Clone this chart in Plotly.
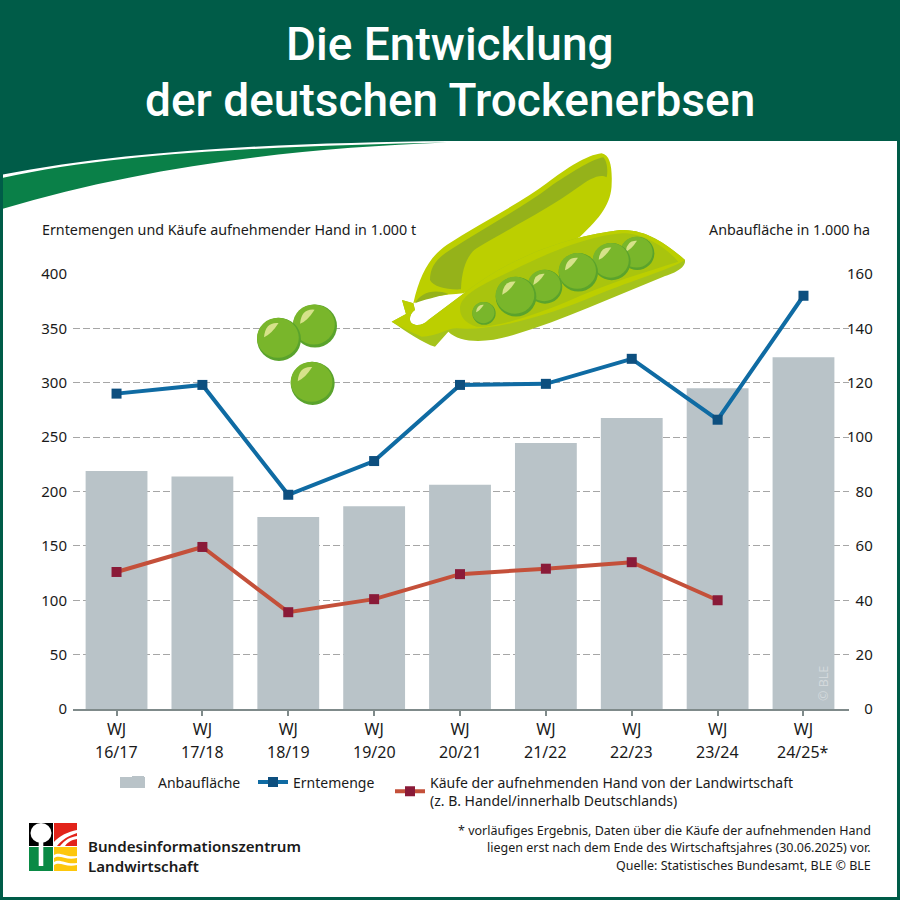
import plotly.graph_objects as go

categories = ["16/17", "17/18", "18/19", "19/20", "20/21", "21/22", "22/23", "23/24", "24/25*"]
anbauflaeche = [87.5, 85.5, 70.6, 74.6, 82.5, 97.8, 107, 118, 129.4]
erntemenge = [290, 298, 197, 228, 298, 299, 322, 266, 380]
kaeufe = [126, 149, 89, 101, 124, 129, 135, 100, None]
right_ticks = [0, 20, 40, 60, 80, 100, 120, 140, 160]

FONT = "Noto Sans"
TITLE_FONT = "Roboto"
INK = "#1a1a1a"
DARK = "#005c48"
MID = "#0a8048"

def X(p): return p / 900
def Y(p): return 1 - p / 900

def to_paper_path(d):
    out, is_x = [], True
    for tok in d.split():
        if tok.isalpha():
            out.append(tok); is_x = True
        else:
            v = float(tok)
            out.append(f"{X(v):.5f}" if is_x else f"{Y(v):.5f}")
            is_x = not is_x
    return " ".join(out)

shapes = []
def path(d, fill, line=None, lw=0, layer="below"):
    shapes.append(dict(type="path", xref="paper", yref="paper", path=to_paper_path(d), fillcolor=fill,
                       line=dict(color=line or fill, width=lw), layer=layer))
def rect(x0, y0, x1, y1, fill, layer="below"):
    shapes.append(dict(type="rect", xref="paper", yref="paper", x0=X(x0), x1=X(x1), y0=Y(y0), y1=Y(y1),
                       fillcolor=fill, line=dict(width=0), layer=layer))
def circ(cx, cy, rx, ry, fill, layer="above"):
    shapes.append(dict(type="circle", xref="paper", yref="paper", x0=X(cx-rx), x1=X(cx+rx), y0=Y(cy-ry), y1=Y(cy+ry),
                       fillcolor=fill, line=dict(width=0), layer=layer))

annotations = []
def text(s, x, y, size, anchor="left", color=INK, weight=None, angle=0, family=FONT):
    font = dict(family=family, size=size, color=color)
    if weight: font["weight"] = weight
    annotations.append(dict(text=s, xref="paper", yref="paper", x=X(x), y=Y(y), xanchor=anchor, yanchor="middle",
                            align=anchor if anchor != "center" else "center",
                            showarrow=False, font=font, textangle=angle))

# header
path("M 0 0 L 900 0 L 900 141 L 447 141 C 300 143 140 148 0 175 Z", DARK)
path("M 2 178 C 130 150 300 146 447 142.6 C 300 148 150 165 2 209 Z", MID)
text("Die Entwicklung", 450, 44, 46, "center", "white", 500, family=TITLE_FONT)
text("der deutschen Trockenerbsen", 450, 100, 46, "center", "white", 500, family=TITLE_FONT)

# pea pod, drawn in crop coordinates
def Z(d):
    toks, is_x, out = d.split(), True, []
    for t in toks:
        if t.isalpha():
            out.append(t); is_x = True
        else:
            v = float(t)
            out.append(str(380 + v/3 if is_x else 140 + v/3)); is_x = not is_x
    return " ".join(out)

path(Z("M 100 490 C 120 400 150 350 200 315 C 300 250 420 190 500 130 C 560 85 620 45 665 40 C 690 45 697 80 695 130 C 695 190 660 235 600 290 C 500 350 350 420 250 460 C 190 465 140 470 100 490 Z"), "#bccf00", layer="above")
path(Z("M 150 420 C 150 380 170 355 210 330 C 320 260 430 200 510 140 C 570 100 630 60 670 52 C 680 60 685 90 680 112 C 660 100 630 115 590 145 C 500 210 380 270 290 325 C 260 345 245 390 243 448 C 200 450 160 440 150 420 Z"), "#95b21a", layer="above")
path(Z("M 105 490 C 120 460 160 445 205 462 C 170 470 130 480 105 490 Z"), "#95b21a", layer="above")
path(Z("M 35 545 L 78 522 L 66 480 L 100 490 L 105 510 C 90 520 85 540 95 550 C 110 560 130 555 145 540 L 245 465 C 390 350 560 290 720 270 C 800 265 870 320 915 360 C 918 385 880 400 850 410 C 700 470 550 540 400 585 C 320 610 240 610 205 575 L 165 620 C 130 610 80 575 35 545 Z"), "#a5c31b", layer="above")
path(Z("M 35 545 L 78 522 L 66 480 L 100 490 L 105 510 C 90 520 85 540 95 550 C 110 560 130 555 145 540 L 245 465 C 390 350 560 290 720 270 C 800 265 870 320 915 360 C 880 385 760 420 650 465 C 520 520 350 575 230 565 C 200 565 170 590 125 590 C 90 575 60 560 35 545 Z"), "#bccf00", layer="above")
path(Z("M 240 505 C 240 470 290 440 400 390 C 520 330 650 280 740 280 C 800 285 860 325 895 365 C 800 395 680 430 560 485 C 450 530 340 565 290 560 C 255 550 240 530 240 505 Z"), "#a9c40e", layer="above")

def pea(cx, cy, r, hl=True):
    circ(cx, cy, r, r*0.98, "#5aa32c")
    circ(cx - r*0.05, cy - r*0.07, r*0.95, r*0.91, "#79b62b")
    if hl:
        a, b = (cx - r*0.68, cy - r*0.1), (cx - r*0.02, cy - r*0.74)
        c1, c2 = (cx - r*0.62, cy - r*0.8), (cx - r*0.35, cy - r*0.22)
        path(f"M {a[0]} {a[1]} Q {c1[0]} {c1[1]} {b[0]} {b[1]} Q {c2[0]} {c2[1]} {a[0]} {a[1]} Z", "#d6e28a", layer="above")

for (zx, zy, zr) in [(772, 340, 51), (695, 365, 57), (495, 440, 52), (595, 397, 59), (312, 520, 35), (408, 470, 61)]:
    pea(380 + zx/3, 140 + zy/3, zr/3)

pea(230 + 255/3, 290 + 108/3, 22)
pea(230 + 147/3, 290 + 148/3, 22)
pea(230 + 248/3, 290 + 280/3, 22)

# axis headings
text("Erntemengen und Käufe aufnehmender Hand in 1.000 t", 40, 230, 14.3)
text("Anbaufläche in 1.000 ha", 872, 230, 14.3, "right")

# second line of the category labels
for c in categories:
    annotations.append(dict(text=c, xref="x", yref="paper", x=c, y=Y(752), yanchor="middle", showarrow=False,
                            font=dict(family=FONT, size=16, color=INK)))

# footnote
text("* vorläufiges Ergebnis, Daten über die Käufe der aufnehmenden Hand", 873, 830, 12.5, "right")
text("liegen erst nach dem Ende des Wirtschaftsjahres (30.06.2025) vor.", 873, 847, 12.5, "right")
text("Quelle: Statistisches Bundesamt, BLE © BLE", 873, 865, 12.5, "right")

# logo
rect(29, 823, 53, 846, "#000000", "above")
rect(54, 823, 77, 846, "#e2231a", "above")
rect(29, 847, 53, 871, "#0a8a45", "above")
rect(54, 847, 77, 871, "#fdc70c", "above")
circ(41, 833, 10.5, 10, "white")
rect(38.7, 838, 43.3, 866, "white", "above")
path("M 53 843 C 60 835 68 832 77 830 L 77 833 C 68 836 62 840 57 846 L 54 846 Z", "white", layer="above")
path("M 60 846 C 65 840 70 837 77 836 L 77 839 C 71 840 67 843 65 846 Z", "white", layer="above")
path("M 54 855 C 60 851 66 858 77 856 L 77 858 C 66 861 60 854 54 858 Z", "white", layer="above")
path("M 54 862 C 60 858 66 865 77 863 L 77 865 C 66 868 60 861 54 865 Z", "white", layer="above")
text("Bundesinformationszentrum<br>Landwirtschaft", 86, 855.5, 15.1, "left", INK, 600)

# watermark
text("© BLE", 823, 684, 12.5, "center", "#d3d9dc", None, -90)

# legend swatch for the bars (wider than the library's own)
rect(120, 777, 145, 788, "#b9c3c8", "above")

# frame
shapes.append(dict(type="rect", xref="paper", yref="paper", x0=X(1.5), x1=X(898.5), y0=Y(1.5), y1=Y(898.5),
                   line=dict(color=DARK, width=3), layer="above"))

fig = go.Figure()
fig.add_bar(x=categories, y=anbauflaeche, name="Anbaufläche", marker=dict(color="#b9c3c8", line=dict(width=0)),
            width=0.72, yaxis="y", legendwidth=90)
fig.add_scatter(x=categories, y=erntemenge, name="Erntemenge", yaxis="y2", mode="lines+markers",
                line=dict(color="#0f6ba3", width=4), marker=dict(symbol="square", size=10, color="#0d4f7f"), legendwidth=92)
fig.add_scatter(x=categories, y=kaeufe, name="Käufe der aufnehmenden Hand von der Landwirtschaft<br>(z. B. Handel/innerhalb Deutschlands)",
                yaxis="y2", mode="lines+markers",
                line=dict(color="#c4503a", width=4), marker=dict(symbol="square", size=10, color="#8a1a38"), legendwidth=385)

fig.update_layout(
    width=900, height=900, autosize=False, margin=dict(l=0, r=0, t=0, b=0, autoexpand=False),
    paper_bgcolor="white", plot_bgcolor="white",
    font=dict(family=FONT, color=INK, size=14),
    shapes=shapes, annotations=annotations,
    xaxis=dict(domain=[X(73), X(849)], type="category", categoryorder="array", categoryarray=categories,
               tickmode="array", tickvals=categories, ticktext=["WJ"] * len(categories),
               range=[-0.507, 8.53], showgrid=False, showline=True, linecolor="#7f8a8a", linewidth=2,
               ticks="outside", ticklen=5, tickwidth=1.5, tickcolor="#7f8a8a", tickfont=dict(size=16, color=INK),
               anchor="y2"),
    yaxis=dict(domain=[Y(709), Y(274)], range=[0, 160], side="right", anchor="free", position=X(846),
               tickmode="array", tickvals=right_ticks, ticktext=[str(v).rjust(3, "\u2007") for v in right_ticks],
               showgrid=True, gridcolor="#a6a6a6", griddash="7px,3px", gridwidth=1.2,
               zeroline=False, showline=False, ticks="", tickfont=dict(size=15, color=INK)),
    yaxis2=dict(domain=[Y(709), Y(274)], range=[0, 400], dtick=50, side="left", overlaying="y", anchor="x",
                showgrid=False, zeroline=False, showline=False, ticks="", ticklabelstandoff=5,
                tickfont=dict(size=15, color=INK)),
    showlegend=True,
    legend=dict(orientation="h", x=X(118), y=Y(766.5), xanchor="left", yanchor="top", traceorder="normal",
                font=dict(family=FONT, size=14, color=INK), bgcolor="rgba(0,0,0,0)", itemclick=False, itemdoubleclick=False),
)

fig.write_html("out.html", config=dict(displayModeBar=False), post_script="document.body.style.margin='0';")
